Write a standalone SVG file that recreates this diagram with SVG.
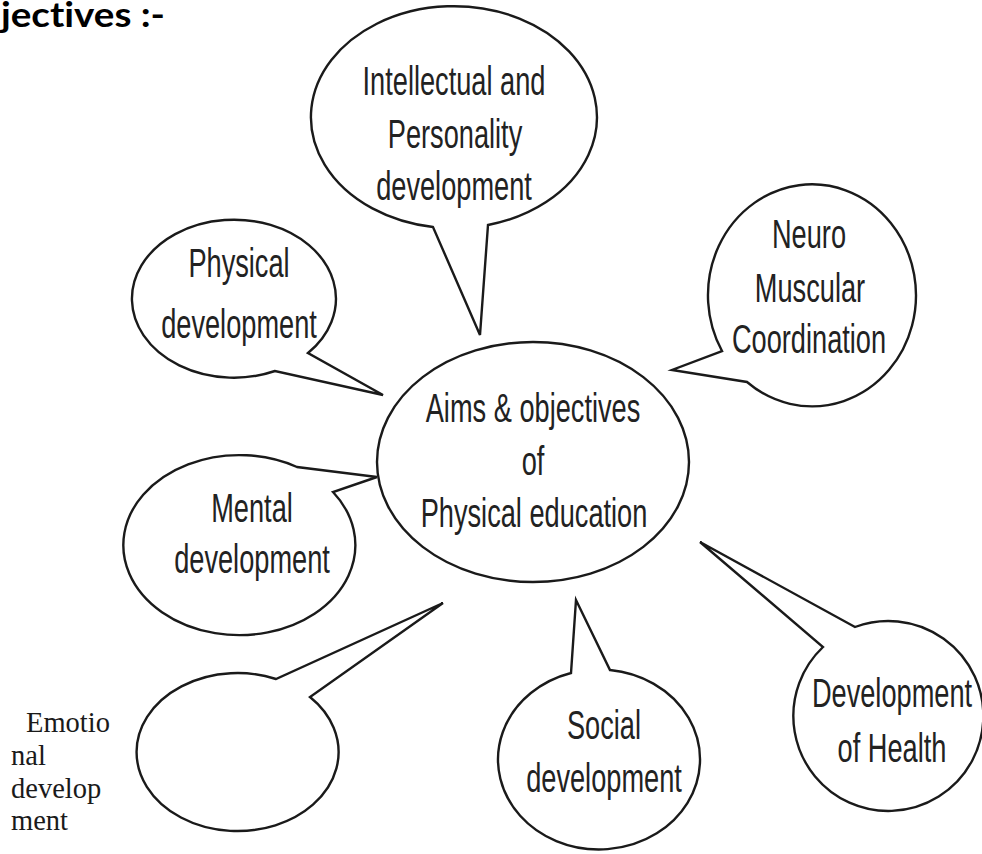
<svg xmlns="http://www.w3.org/2000/svg" width="982" height="854" viewBox="0 0 982 854">
  <style>
    .bubble { fill: #ffffff; stroke: #1a1a1a; stroke-width: 2.4; stroke-linejoin: miter; }
    .lbl { font-family: "Liberation Sans", Arial, sans-serif; font-size: 40px; fill: #222222; text-anchor: middle; }
    .title { font-family: Lato, "Open Sans", sans-serif; font-weight: bold; font-size: 35px; fill: #000000; font-variant-ligatures: none; }
    .serif { font-family: "Liberation Serif", "Times New Roman", serif; font-size: 28.5px; fill: #1a1a1a; }
  </style>
  <rect x="0" y="0" width="982" height="854" fill="#ffffff"/>

  <text class="title" x="1" y="27" textLength="164" lengthAdjust="spacingAndGlyphs">jectives :-</text>

  <g id="connectors"></g>

  <g id="center">
    <ellipse class="bubble" cx="533" cy="462" rx="156" ry="120"/>
    <text class="lbl" transform="translate(533,422) scale(0.68,1)">Aims &amp; objectives</text>
    <text class="lbl" transform="translate(533,475) scale(0.68,1)">of</text>
    <text class="lbl" transform="translate(534,527) scale(0.68,1)">Physical education</text>
  </g>

  <g id="intellectual">
    <path class="bubble" d="M 433 227 A 143 111 0 1 1 488 225 L 480 335 Z"/>
    <text class="lbl" transform="translate(454,95) scale(0.68,1)">Intellectual and</text>
    <text class="lbl" transform="translate(455,148) scale(0.68,1)">Personality</text>
    <text class="lbl" transform="translate(454,200) scale(0.68,1)">development</text>
  </g>

  <g id="physical">
    <path class="bubble" d="M 275 371 A 102 79 0 1 1 308 353 L 383 395 Z"/>
    <text class="lbl" transform="translate(239,277) scale(0.68,1)">Physical</text>
    <text class="lbl" transform="translate(239,338) scale(0.68,1)">development</text>
  </g>

  <g id="neuro">
    <path class="bubble" d="M 722 351 A 104 111 0 1 1 747 382 L 672 370 Z"/>
    <text class="lbl" transform="translate(809,248) scale(0.68,1)">Neuro</text>
    <text class="lbl" transform="translate(810,302) scale(0.68,1)">Muscular</text>
    <text class="lbl" transform="translate(809,353) scale(0.68,1)">Coordination</text>
  </g>

  <g id="mental">
    <path class="bubble" d="M 333 492 A 116 90 0 1 1 297 467 L 377 477 Z"/>
    <text class="lbl" transform="translate(252,522) scale(0.68,1)">Mental</text>
    <text class="lbl" transform="translate(252,573) scale(0.68,1)">development</text>
  </g>

  <g id="emotional">
    <path class="bubble" d="M 310 697 A 101 79 0 1 1 276 679 L 443 603 Z"/>
    <text class="serif" x="26" y="732">Emotio</text>
    <text class="serif" x="11" y="765">nal</text>
    <text class="serif" x="11" y="798">develop</text>
    <text class="serif" x="11" y="830">ment</text>
  </g>

  <g id="social">
    <path class="bubble" d="M 610 670 A 101 90 0 1 1 571 673 L 576 600 Z"/>
    <text class="lbl" transform="translate(604,739) scale(0.68,1)">Social</text>
    <text class="lbl" transform="translate(604,792) scale(0.68,1)">development</text>
  </g>

  <g id="health">
    <path class="bubble" d="M 855 627 A 95 95 0 1 1 823 647 L 700 542 Z"/>
    <text class="lbl" transform="translate(892,707) scale(0.68,1)">Development</text>
    <text class="lbl" transform="translate(892,762) scale(0.68,1)">of Health</text>
  </g>
</svg>
